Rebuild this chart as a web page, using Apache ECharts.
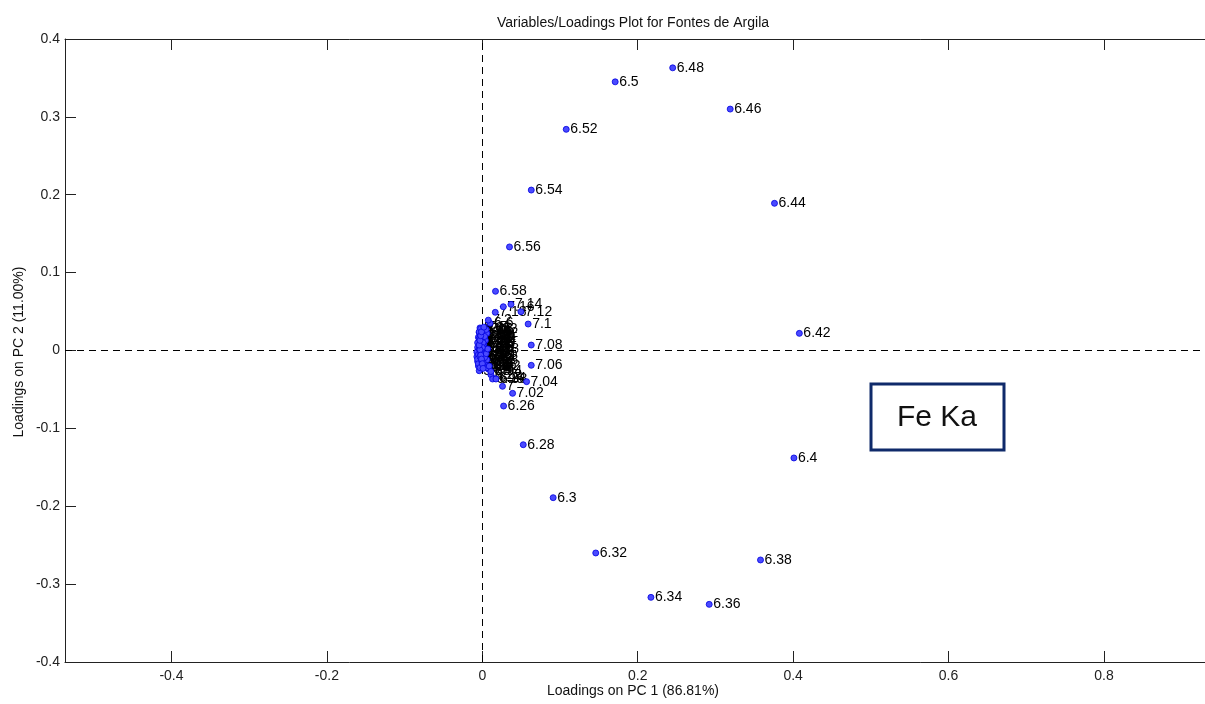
<!DOCTYPE html>
<html><head><meta charset="utf-8">
<script src="https://cdn.jsdelivr.net/npm/echarts@6/dist/echarts.min.js"></script>
<style>html,body{margin:0;padding:0;background:#fff}#c{width:1205px;height:704px}</style>
</head><body><div id="c"></div>
<script>
// Variable labels (energies, keV)
const varLabels = [
  '5.7','5.72','5.74','5.76','5.78','5.8','5.82','5.84','5.86','5.88',
  '5.9','5.92','5.94','5.96','5.98','6','6.02','6.04','6.06','6.08',
  '6.1','6.12','6.14','6.16','6.18','6.2','6.22','6.24',
  '6.26','6.28','6.3','6.32','6.34','6.36','6.38','6.4','6.42','6.44',
  '6.46','6.48','6.5','6.52','6.54','6.56','6.58',
  '6.6','6.62','6.64','6.66','6.68','6.7','6.72','6.74','6.76','6.78',
  '6.8','6.82','6.84','6.86','6.88','6.9','6.92',
  '6.94','6.96','6.98','7','7.02','7.04','7.06','7.08','7.1','7.12',
  '7.14','7.16','7.18','7.2','7.22','7.24','7.26','7.28','7.3',
  '7.32','7.34','7.36','7.38','7.4','7.42','7.44','7.46','7.48','7.5'
];
// Loadings on PC 1
const pc1 = [
  -0.006,-0.007,-0.006,-0.007,-0.005,-0.006,-0.004,-0.005,-0.003,-0.004,
  -0.004,-0.005,-0.003,-0.006,-0.004,-0.005,-0.002,-0.003,0.000,-0.001,
  0.001,0.002,0.003,0.004,0.006,0.008,0.011,0.016,
  0.0274,0.0527,0.0912,0.146,0.217,0.292,0.358,0.401,0.408,0.376,
  0.319,0.245,0.171,0.108,0.063,0.035,0.017,
  0.010,0.006,0.004,0.002,0.001,-0.001,0.000,-0.002,-0.004,-0.003,
  -0.002,0.001,0.003,0.005,0.007,0.006,0.009,
  0.011,0.0132,0.0176,0.026,0.039,0.057,0.063,0.063,0.059,0.0497,
  0.0369,0.027,0.0167,0.0077,0.005,0.003,0.001,0.000,-0.002,
  -0.003,-0.004,-0.002,-0.003,-0.001,-0.002,0.000,-0.001,0.001,0.002
];
// Loadings on PC 2
const pc2 = [
  0.004,-0.002,0.010,-0.008,0.017,-0.014,0.023,-0.020,0.029,-0.026,
  0.002,-0.005,0.009,-0.011,0.015,-0.017,0.021,-0.022,0.026,-0.013,
  0.005,-0.007,0.016,-0.019,-0.012,-0.024,-0.031,-0.036,
  -0.0713,-0.121,-0.189,-0.260,-0.317,-0.326,-0.269,-0.138,0.022,0.189,
  0.310,0.363,0.345,0.284,0.206,0.133,0.076,
  0.035,0.022,0.013,0.008,0.003,-0.002,0.011,0.018,0.024,-0.008,
  0.028,-0.015,-0.009,-0.004,0.002,-0.022,-0.020,
  -0.027,-0.0366,-0.0366,-0.046,-0.055,-0.040,-0.019,0.007,0.034,0.0498,
  0.0593,0.0562,0.049,0.039,0.027,0.018,0.010,0.004,-0.003,
  0.001,0.007,-0.006,0.013,-0.011,0.019,-0.017,0.024,-0.023,0.030
];
const xTicks = [-0.4,-0.2,0,0.2,0.4,0.6,0.8];

const FONT = '"Liberation Sans", Arial, sans-serif';
const fmt = v => String(+(+v).toFixed(2));
const chart = echarts.init(document.getElementById('c'), null, {renderer:'canvas'});
const pts = pc1.map((x,i)=>[x, pc2[i], varLabels[i]]);

const axisLine = {show:true, onZero:false, lineStyle:{color:'#222', width:1}};
const xTick = {show:true, inside:true, length:11, customValues:xTicks, lineStyle:{color:'#222', width:1}};

chart.setOption({
  animation:false,
  backgroundColor:'#fff',
  grid:{left:65, top:39, right:-2, bottom:42, containLabel:false},
  xAxis:[
    {type:'value', min:-0.537, max:0.930, position:'bottom', axisLine:axisLine, axisTick:xTick, splitLine:{show:false},
      axisLabel:{show:true, customValues:xTicks, formatter:fmt, margin:7, fontSize:14, color:'#222', fontFamily:FONT}},
    {type:'value', min:-0.537, max:0.930, position:'top', axisLine:axisLine, axisTick:xTick, splitLine:{show:false},
      axisLabel:{show:false}}
  ],
  yAxis:[
    {type:'value', min:-0.4, max:0.4, interval:0.1, position:'left', axisLine:axisLine, splitLine:{show:false},
      axisTick:{show:true, inside:true, length:11, lineStyle:{color:'#222', width:1}},
      axisLabel:{show:true, formatter:fmt, margin:5, fontSize:14, color:'#222', fontFamily:FONT}}
  ],
  series:[
    { // text labels (drawn underneath the markers, as in the reference)
      type:'scatter', xAxisIndex:0, yAxisIndex:0, data:pts,
      symbol:'circle', symbolSize:6, silent:true,
      itemStyle:{color:'#ffffff', opacity:0},
      label:{show:true, position:'right', distance:1, formatter:p=>p.data[2],
        fontSize:14, color:'#000', opacity:1, fontFamily:FONT},
      labelLayout:{hideOverlap:false},
      markLine:{
        silent:true, symbol:'none', animation:false,
        label:{show:false},
        lineStyle:{color:'#000', type:[7,5], width:1},
        data:[{xAxis:0},{yAxis:0}]
      },
      z:2
    },
    { // markers
      type:'scatter', xAxisIndex:0, yAxisIndex:0, data:pts,
      symbol:'circle', symbolSize:6,
      itemStyle:{color:'#4a4aff', borderColor:'#0000e0', borderWidth:0.8, opacity:1},
      label:{show:false},
      z:5
    }
  ],
  graphic:[
    {type:'text', x:633, y:23, style:{text:'Variables/Loadings Plot for Fontes de Argila', fill:'#111', font:'14px '+FONT, align:'center', verticalAlign:'middle'}},
    {type:'text', x:633, y:691, style:{text:'Loadings on PC 1 (86.81%)', fill:'#111', font:'14px '+FONT, align:'center', verticalAlign:'middle'}},
    {type:'text', x:19, y:352, rotation:Math.PI/2, style:{text:'Loadings on PC 2 (11.00%)', fill:'#111', font:'14px '+FONT, align:'center', verticalAlign:'middle'}},
    {type:'rect', shape:{x:871, y:384, width:133, height:66}, style:{fill:'#fff', stroke:'#0f2a6a', lineWidth:3}, z:10},
    {type:'text', x:937, y:418, style:{text:'Fe Ka', fill:'#111', font:'30px '+FONT, align:'center', verticalAlign:'middle'}, z:11}
  ]
});
</script>
</body></html>
